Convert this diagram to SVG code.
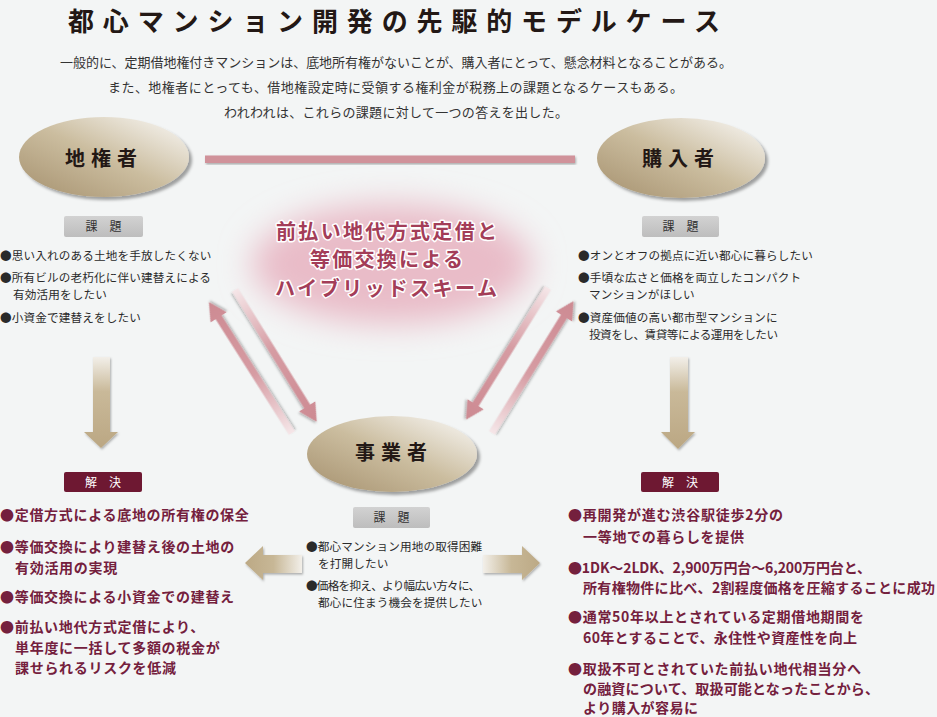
<svg xmlns="http://www.w3.org/2000/svg" width="937" height="717" viewBox="0 0 937 717">
<defs>
<style>
text{font-family:"Noto Sans CJK JP","Noto Sans CJK SC",sans-serif;}
.title{font-size:26px;font-weight:700;fill:#231815;}
.intro{font-size:13px;fill:#333;}
.node{font-size:20px;font-weight:700;fill:#231815;letter-spacing:6px;text-anchor:middle;}
.scheme{font-size:20px;font-weight:700;fill:#a33d58;stroke:#fff;stroke-width:3px;paint-order:stroke;stroke-linejoin:round;}
.lbl{font-size:12px;fill:#333;text-anchor:middle;}
.lblw{font-size:12px;fill:#fff;text-anchor:middle;}
.sm{font-size:11.6px;fill:#2a2a2a;letter-spacing:0.15px;}
.sm2{font-size:11.6px;fill:#2a2a2a;}
.red{font-size:14px;font-weight:700;fill:#74203d;letter-spacing:0.7px;}
.red2{font-size:14px;font-weight:700;fill:#74203d;}
.pink{fill:url(#gPink);filter:url(#shS);}
</style>
<linearGradient id="gEll" x1="0.05" y1="0.95" x2="0.95" y2="0.05">
<stop offset="0" stop-color="#a99573"/>
<stop offset="0.5" stop-color="#cbbd9f"/>
<stop offset="1" stop-color="#f6f4f0"/>
</linearGradient>
<linearGradient id="gPink" x1="0" y1="0" x2="1" y2="0">
<stop offset="0" stop-color="#f5e6e8"/>
<stop offset="0.45" stop-color="#d69ca3"/>
<stop offset="1" stop-color="#cd8a92"/>
</linearGradient>
<linearGradient id="gDown" x1="0" y1="0" x2="0" y2="1">
<stop offset="0" stop-color="#f2efe9"/>
<stop offset="0.38" stop-color="#c9b999"/>
<stop offset="1" stop-color="#bba783"/>
</linearGradient>
<linearGradient id="gLeft" x1="0" y1="0" x2="1" y2="0">
<stop offset="0" stop-color="#bca985"/>
<stop offset="0.5" stop-color="#c7b796"/>
<stop offset="1" stop-color="#f2efe9"/>
</linearGradient>
<linearGradient id="gRight" x1="0" y1="0" x2="1" y2="0">
<stop offset="0" stop-color="#f2efe9"/>
<stop offset="0.5" stop-color="#c7b796"/>
<stop offset="1" stop-color="#bca985"/>
</linearGradient>
<linearGradient id="gGray" x1="0" y1="0" x2="0" y2="1">
<stop offset="0" stop-color="#d2d2d2"/>
<stop offset="1" stop-color="#bdbdbd"/>
</linearGradient>
<filter id="sh" x="-20%" y="-20%" width="140%" height="150%">
<feDropShadow dx="3" dy="3" stdDeviation="1.8" flood-color="#000" flood-opacity="0.35"/>
</filter>
<filter id="shS" x="-20%" y="-20%" width="140%" height="140%">
<feDropShadow dx="1" dy="1.5" stdDeviation="1" flood-color="#000" flood-opacity="0.3"/>
</filter>
<filter id="blur" x="-50%" y="-50%" width="200%" height="200%">
<feGaussianBlur stdDeviation="16"/>
</filter>
<path id="pArrow" d="M0,-3.5 H137 V-9.5 L155,0 L137,9.5 V3.5 H0 Z"/>
</defs>

<rect width="937" height="717" fill="#f3f5f5"/>

<g id="title">
<text class="title" x="68" y="31" textLength="652" lengthAdjust="spacing">都心マンション開発の先駆的モデルケース</text>
<text class="intro" x="60" y="66.5" textLength="672" lengthAdjust="spacing">一般的に、定期借地権付きマンションは、底地所有権がないことが、購入者にとって、懸念材料となることがある。</text>
<text class="intro" x="108" y="92" textLength="575" lengthAdjust="spacing">また、地権者にとっても、借地権設定時に受領する権利金が税務上の課題となるケースもある。</text>
<text class="intro" x="224" y="117" textLength="344" lengthAdjust="spacing">われわれは、これらの課題に対して一つの答えを出した。</text>
</g>

<g id="node-scheme">
<ellipse cx="392" cy="264" rx="140" ry="60" fill="#e9bcc8" filter="url(#blur)"/>
<text class="scheme" x="276" y="239" textLength="221" lengthAdjust="spacing">前払い地代方式定借と</text>
<text class="scheme" x="310" y="267" textLength="153" lengthAdjust="spacing">等価交換による</text>
<text class="scheme" x="275" y="296" textLength="222" lengthAdjust="spacing">ハイブリッドスキーム</text>
</g>

<g id="connectors">
<rect x="205" y="155.5" width="370" height="7.5" fill="#d0929a" filter="url(#shS)"/>
<use href="#pArrow" class="pink" transform="translate(235,290) rotate(58.2)"/>
<use href="#pArrow" class="pink" transform="translate(292,433) rotate(237.6)"/>
<use href="#pArrow" class="pink" transform="translate(548,288) rotate(121.9)"/>
<use href="#pArrow" class="pink" transform="translate(492,433) rotate(-58.3)"/>
<path d="M93,357 H110 V432 H118 L101,448 L84,432 H93 Z" fill="url(#gDown)" filter="url(#shS)"/>
<path d="M670,357 H688 V432 H695 L678,449 L661,432 H670 Z" fill="url(#gDown)" filter="url(#shS)"/>
<path d="M245,563 L263,546 V555 H302 V573 H263 V580 Z" fill="url(#gLeft)" filter="url(#shS)"/>
<path d="M483,555 H522 V546 L540,563 L522,580 V573 H483 Z" fill="url(#gRight)" filter="url(#shS)"/>
</g>

<g id="node-chikensha">
<ellipse cx="104" cy="157" rx="85" ry="40" fill="url(#gEll)" filter="url(#sh)"/>
<text class="node" x="104" y="165.5">地権者</text>
</g>

<g id="node-konyusha">
<ellipse cx="681" cy="158" rx="84" ry="40" fill="url(#gEll)" filter="url(#sh)"/>
<text class="node" x="681" y="166">購入者</text>
</g>

<g id="node-jigyosha">
<ellipse cx="392" cy="454" rx="85" ry="38" fill="url(#gEll)" filter="url(#sh)"/>
<text class="node" x="394" y="460">事業者</text>
</g>

<g id="issues-left">
<rect x="64" y="216" width="79" height="21" rx="2" fill="url(#gGray)"/>
<text class="lbl" x="103.5" y="231">課　題</text>
<text class="sm" x="0" y="260.3">●思い入れのある土地を手放したくない</text>
<text class="sm" x="0" y="282.3">●所有ビルの老朽化に伴い建替えによる</text>
<text class="sm" x="13" y="299.3">有効活用をしたい</text>
<text class="sm" x="0" y="322.3">●小資金で建替えをしたい</text>
</g>

<g id="issues-right">
<rect x="642" y="216" width="77" height="21" rx="2" fill="url(#gGray)"/>
<text class="lbl" x="680.5" y="231">課　題</text>
<text class="sm" x="578" y="260.3">●オンとオフの拠点に近い都心に暮らしたい</text>
<text class="sm" x="578" y="282.3">●手頃な広さと価格を両立したコンパクト</text>
<text class="sm" x="589" y="299.3">マンションがほしい</text>
<text class="sm" x="578" y="322.3">●資産価値の高い都市型マンションに</text>
<text class="sm2" x="589" y="339.3" textLength="189" lengthAdjust="spacing">投資をし、賃貸等による運用をしたい</text>
</g>

<g id="issues-center">
<rect x="353" y="507" width="77" height="21" rx="2" fill="url(#gGray)"/>
<text class="lbl" x="391.5" y="522">課　題</text>
<text class="sm" x="306" y="551.3">●都心マンション用地の取得困難</text>
<text class="sm" x="318" y="568.3">を打開したい</text>
<text class="sm2" x="306" y="590.3" textLength="174" lengthAdjust="spacing">●価格を抑え、より幅広い方々に、</text>
<text class="sm" x="318" y="607.3">都心に住まう機会を提供したい</text>
</g>

<g id="solutions-left">
<rect x="64" y="472" width="78" height="20" rx="2" fill="#6e1832"/>
<text class="lblw" x="103" y="486.5">解　決</text>
<text class="red" x="0" y="520">●定借方式による底地の所有権の保全</text>
<text class="red" x="0" y="552">●等価交換により建替え後の土地の</text>
<text class="red" x="15" y="573">有効活用の実現</text>
<text class="red" x="0" y="602">●等価交換による小資金での建替え</text>
<text class="red" x="0" y="632">●前払い地代方式定借により、</text>
<text class="red" x="15" y="653">単年度に一括して多額の税金が</text>
<text class="red" x="15" y="673">課せられるリスクを低減</text>
</g>

<g id="solutions-right">
<rect x="641" y="472" width="78" height="20" rx="2" fill="#6e1832"/>
<text class="lblw" x="680" y="486.5">解　決</text>
<text class="red2" x="568" y="520" textLength="215" lengthAdjust="spacing">●再開発が進む渋谷駅徒歩2分の</text>
<text class="red" x="583" y="542">一等地での暮らしを提供</text>
<text class="red2" x="568" y="573" textLength="303" lengthAdjust="spacing">●1DK～2LDK、2,900万円台～6,200万円台と、</text>
<text class="red2" x="583" y="593" textLength="352" lengthAdjust="spacing">所有権物件に比べ、2割程度価格を圧縮することに成功</text>
<text class="red2" x="568" y="622" textLength="296" lengthAdjust="spacing">●通常50年以上とされている定期借地期間を</text>
<text class="red2" x="583" y="643" textLength="274" lengthAdjust="spacing">60年とすることで、永住性や資産性を向上</text>
<text class="red" x="568" y="674">●取扱不可とされていた前払い地代相当分へ</text>
<text class="red2" x="583" y="694" textLength="296" lengthAdjust="spacing">の融資について、取扱可能となったことから、</text>
<text class="red2" x="583" y="713" textLength="115" lengthAdjust="spacing">より購入が容易に</text>
</g>
</svg>
